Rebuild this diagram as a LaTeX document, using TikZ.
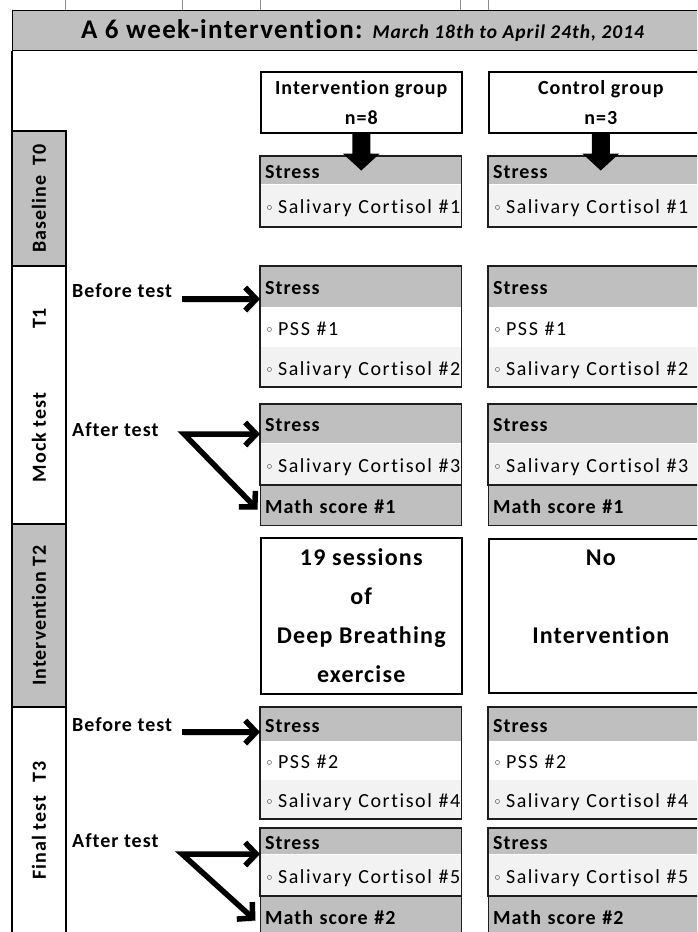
\documentclass[tikz,border=0pt]{standalone}
\usepackage{fontspec}
\setmainfont{Carlito}[LetterSpace=5, Ligatures=NoCommon]
\newfontfamily\itmfont{Carlito}[LetterSpace=8, Ligatures=NoCommon]
\newfontfamily\bulfont{DejaVu Sans}
\usetikzlibrary{arrows.meta,positioning,calc}

\definecolor{bargray}{RGB}{191,191,191}
\definecolor{rowgray}{RGB}{242,242,242}
\definecolor{edge}{RGB}{30,30,30}
\newcommand{\meas}[1]{\mbox{{\bulfont\fontsize{15}{15}\selectfont ◦}\kern4pt #1}}

\tikzset{
  cell/.style={anchor=north west, inner xsep=5pt, inner ysep=0pt, align=left, text=black,
    text height=16pt, text depth=0pt},
  hdr/.style={cell, fill=bargray, font=\fontsize{20}{22}\selectfont\bfseries},
  itm/.style={cell, fill=rowgray, font=\itmfont\fontsize{20}{22}\selectfont},
  itmw/.style={itm, fill=white},
  mathbox/.style={hdr, draw=edge, line width=1.4pt},
  grpline/.style={draw=edge, line width=1.6pt},
  grpbox/.style={draw=black, line width=1.5pt, fill=white, anchor=north west, align=center,
    inner sep=0pt, font=\fontsize{20}{30}\selectfont\bfseries},
  bigbox/.style={grpbox, font=\fontsize{24}{39}\selectfont\bfseries},
  phase/.style={draw=black, line width=1.5pt, rotate=90, minimum height=54pt, inner sep=0pt,
    font=\fontsize{20}{22}\selectfont\bfseries},
  lbl/.style={anchor=west, inner sep=0pt, font=\fontsize{20}{22}\selectfont\bfseries},
  bigarrow/.style={line width=5.5pt, line join=miter, -{Straight Barb[length=11pt,width=23pt]},
    preaction={draw=black!15, transform canvas={xshift=2pt,yshift=-3pt}}},
  twoarrow/.style={bigarrow, {Straight Barb[length=11pt,width=23pt]}-{Straight Barb[length=11pt,width=23pt]}}
}

\begin{document}
\begin{tikzpicture}[x=1pt, y=-1pt]
  \fill[white] (0,0) rectangle (697,932);
  \useasboundingbox (0,0) rectangle (697,932);
  \clip (0,0) rectangle (697,932);

  % title
  \foreach \tx in {65,182,260,460,488}
    \draw[black!45, line width=0.8pt] (\tx,0) -- (\tx,10);
  \node[anchor=north west, minimum width=700pt, minimum height=40pt, inner sep=0pt, fill=bargray,
    draw=black, line width=1.2pt, font=\fontsize{27}{30}\selectfont\bfseries] (ttl) at (12,10)
    {A 6 week-intervention: {\fontsize{19.5}{22}\selectfont\itshape March 18th to April 24th, 2014}};

  % phases
  \node[phase, fill=bargray, minimum width=135pt] (t0) at (39,198.5) {Baseline\hspace{10pt}T0};
  \node[phase, fill=white, minimum width=258pt] (t1) at (39,395) {Mock test\hspace{64pt}T1};
  \node[phase, fill=bargray, minimum width=183pt] (t2) at (39,615.5) {Intervention T2};
  \node[phase, fill=white, minimum width=227pt] (t3) at (39,820.5) {Final test\hspace{13pt}T3};
  \draw[line width=1.5pt] (ttl.south west) -- (ttl.south west |- t0.east);

  % groups
  \node[grpbox, minimum width=201pt, minimum height=61pt] (ig) at (260,71) {Intervention group\\n=8};
  \node[grpbox, minimum width=224pt, minimum height=61pt] (cg) at (488,71) {Control group\\n=3};

  % measures, both groups
  \foreach \col/\xx/\tw in {i/260/191, c/488/214} {
    % T0
    \node[hdr, text width=\tw pt, minimum height=28pt] (s0\col) at (\xx,156) {Stress};
    \node[itm, text width=\tw pt, minimum height=42pt, below=0pt of s0\col] (c1\col) {\meas{Salivary Cortisol \#1}};
    \draw[grpline] (s0\col.north west) rectangle (c1\col.south east);
    % T1 before
    \node[hdr, text width=\tw pt, minimum height=41pt] (s1\col) at (\xx,266) {Stress};
    \node[itmw, text width=\tw pt, minimum height=39pt, below=0pt of s1\col] (p1\col) {\meas{PSS \#1}};
    \node[itm, text width=\tw pt, minimum height=40pt, below=0pt of p1\col] (c2\col) {\meas{Salivary Cortisol \#2}};
    \draw[grpline] (s1\col.north west) rectangle (c2\col.south east);
    % T1 after
    \node[hdr, text width=\tw pt, minimum height=39pt] (s2\col) at (\xx,404) {Stress};
    \node[itm, text width=\tw pt, minimum height=41pt, below=0pt of s2\col] (c3\col) {\meas{Salivary Cortisol \#3}};
    \draw[grpline] (s2\col.north west) rectangle (c3\col.south east);
    \node[mathbox, text width=\tw pt, minimum height=40pt, below=0pt of c3\col] (m1\col) {Math score \#1};
    % T3 before
    \node[hdr, text width=\tw pt, minimum height=34pt] (s3\col) at (\xx,707) {Stress};
    \node[itmw, text width=\tw pt, minimum height=38pt, below=0pt of s3\col] (p2\col) {\meas{PSS \#2}};
    \node[itm, text width=\tw pt, minimum height=39pt, below=0pt of p2\col] (c4\col) {\meas{Salivary Cortisol \#4}};
    \draw[grpline] (s3\col.north west) rectangle (c4\col.south east);
    % T3 after
    \node[hdr, text width=\tw pt, minimum height=26pt] (s4\col) at (\xx,828) {Stress};
    \node[itm, text width=\tw pt, minimum height=41pt, below=0pt of s4\col] (c5\col) {\meas{Salivary Cortisol \#5}};
    \draw[grpline] (s4\col.north west) rectangle (c5\col.south east);
    \node[mathbox, text width=\tw pt, minimum height=40pt, below=0pt of c5\col] (m2\col) {Math score \#2};
  }

  % T2
  \node[bigbox, minimum width=201pt, minimum height=156pt] (sess) at (260,537)
    {19 sessions\\of\\Deep Breathing\\exercise};
  \node[bigbox, minimum width=224pt, minimum height=154pt] (noint) at (488,538)
    {No\\\mbox{}\\Intervention\\\mbox{}};

  % group arrows
  \foreach \g in {ig,cg}
    \fill (\g.south) ++(-9,0) -- ++(0,20) -- ++(-9.5,0) -- ++(18.5,17) -- ++(18.5,-17)
      -- ++(-9.5,0) -- ++(0,-20) -- cycle;

  % test arrows
  \node[lbl] (bt1) at (72,291) {Before test};
  \coordinate (a1) at (182,299);
  \draw[bigarrow] (a1) -- (a1 -| s1i.west);
  \node[lbl] (at1) at (72,430) {After test};
  \coordinate (a2) at (184,434);
  \draw[twoarrow] (a2 -| s2i.west) -- (a2) -- ([xshift=-2pt,yshift=-4pt]m1i.west);
  \node[lbl] (bt2) at (72,725) {Before test};
  \coordinate (a3) at (182,732);
  \draw[bigarrow] (a3) -- (a3 -| s3i.west);
  \node[lbl] (at2) at (72,841) {After test};
  \coordinate (a4) at (182,854);
  \draw[twoarrow] (a4 -| s4i.west) -- (a4) -- ([xshift=-4pt,yshift=-4pt]m2i.west);
\end{tikzpicture}
\end{document}
